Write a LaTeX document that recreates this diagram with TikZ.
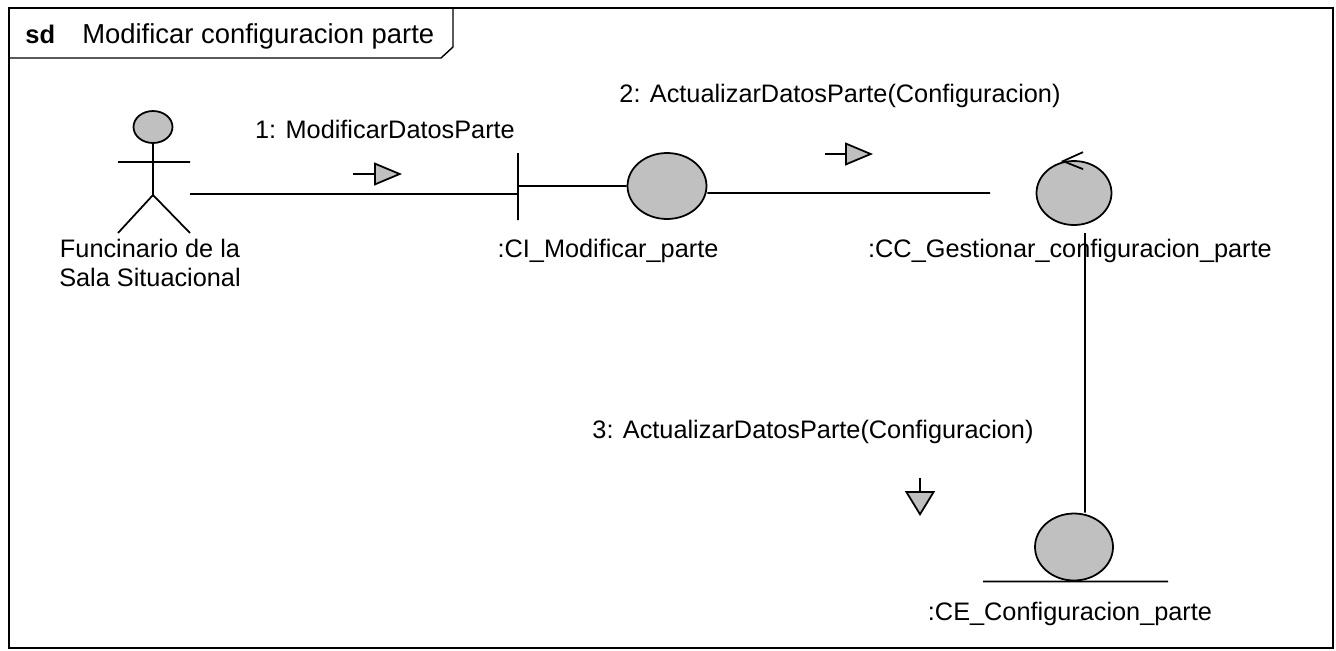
\documentclass[tikz,border=0pt]{standalone}
\usepackage{fontspec}
\setmainfont{Liberation Sans}
\usetikzlibrary{shapes.geometric,arrows.meta}
\definecolor{objgray}{RGB}{192,192,192}

\begin{document}
\begin{tikzpicture}[x=0.02cm, y=-0.02cm]
        \tikzstyle{obj_circ} = [shape = ellipse, draw = black, fill = objgray, line width = 1pt, minimum width = 1.58cm, minimum height = 1.32cm, inner sep = 0pt]
        \tikzstyle{obj_lbl}  = [font = \fontsize{14.4}{17}\selectfont, inner sep = 0pt, anchor = base]
        \tikzstyle{msg_arr}  = [line width = 1pt, -{Triangle[length = 0.56cm, width = 0.46cm, fill = objgray]}]
        \tikzstyle{link}     = [line width = 1pt]

        \useasboundingbox (0, 0) rectangle (1336, 650);
        \draw[line width = 1.6pt] (9, 8) rectangle (1333, 648);
        \draw[line width = 0.8pt] (9, 58) -- (441, 58) -- (453, 47) -- (453, 8);
        \node[obj_lbl, anchor = base west, font = \fontsize{14.5}{17}\selectfont\bfseries] at (25, 43) (sd_kw) {sd};
        \node[obj_lbl, anchor = base west, font = \fontsize{15.6}{17}\selectfont] at (82, 43) (sd_name) {Modificar configuracion parte};

        \node[shape = ellipse, draw = black, fill = objgray, line width = 1pt, minimum width = 0.78cm, minimum height = 0.64cm, inner sep = 0pt] at (153, 127) (act_head) {};
        \coordinate (act_hip) at (153, 195);
        \coordinate (act_r)   at (190, 194);
        \draw[link]
          (act_head.south) -- (act_hip)
          (118, 162) -- (190, 162)
          (118, 233) -- (act_hip) -- (190, 233)
        ;
        \node[obj_lbl, anchor = center, align = center] at (150, 263) (act_txt) {Funcinario de la\\Sala Situacional};

        \node[obj_circ] at (667, 186) (ci) {};
        \coordinate (ci_bar) at (518, 186);
        \node[obj_lbl] at (608, 257) (ci_txt) {:CI\_Modificar\_parte};

        \node[obj_circ, minimum width = 1.5cm, minimum height = 1.28cm] at (1074, 193) (cc) {};
        \coordinate (cc_l) at (990, 193);
        \coordinate (cc_b) at (1085, 233);
        \node[obj_lbl] at (1070, 257) (cc_txt) {:CC\_Gestionar\_configuracion\_parte};

        \node[obj_circ, minimum width = 1.56cm, minimum height = 1.34cm] at (1074, 547) (ce) {};
        \node[obj_lbl] at (1070, 620) (ce_txt) {:CE\_Configuracion\_parte};

        \draw[link]
          (ci_bar) ++(0, -33) -- ++(0, 67)
          (ci_bar) -- (ci)
          (act_r) -- (act_r -| ci_bar)
          (ci.east |- cc_l) -- (cc_l)
          (cc.north) ++(9, -8) -- ++(-20, 9) -- ++(20, 8)
          (cc_b) -- (cc_b |- ce.north)
          (ce.south) ++(-91, 0) -- ++(185, 0)
        ;

        \node[obj_lbl] at (385, 138) (m1_txt) {1: ModificarDatosParte};
        \node[obj_lbl] at (840, 102) (m2_txt) {2: ActualizarDatosParte(Configuracion)};
        \node[obj_lbl] at (813, 438) (m3_txt) {3: ActualizarDatosParte(Configuracion)};

        \coordinate (m1) at (353, 174);
        \coordinate (m2) at (825, 154);
        \coordinate (m3) at (920, 478);
        \draw[msg_arr] (m1) -- ++(49, 0);
        \draw[msg_arr] (m2) -- ++(48, 0);
        \draw[msg_arr, -{Triangle[length = 0.5cm, width = 0.6cm, fill = objgray]}] (m3) -- ++(0, 38);
      \end{tikzpicture}
\end{document}
